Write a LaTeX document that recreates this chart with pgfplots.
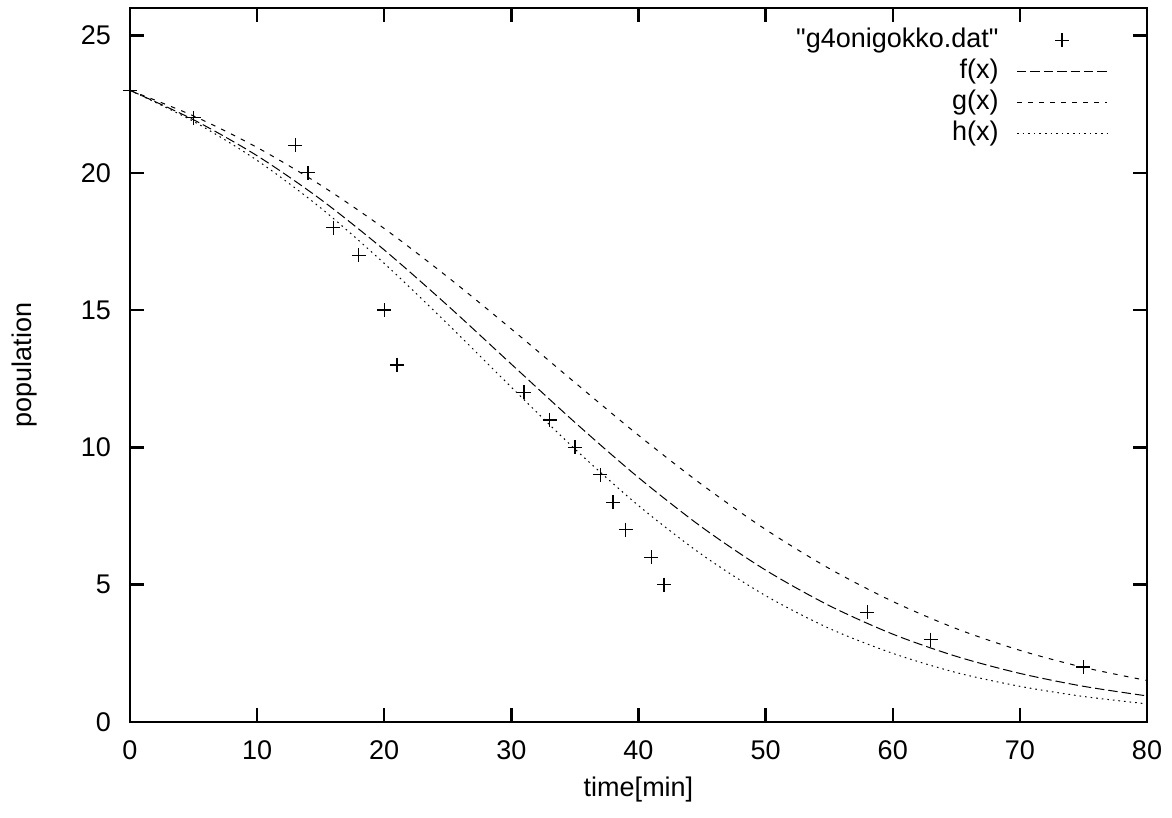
\documentclass[border=0pt]{standalone}
\usepackage{fontspec}
\setmainfont{Liberation Sans}
\usepackage{pgfplots}
\pgfplotsset{compat=1.18}
\pgfplotsset{
    lineleg/.style={legend image code/.code={\draw[##1, mark=none] (0pt,0pt) -- (45pt,0pt);}},
    plusleg/.style={legend image code/.code={\path (0pt,0pt) (45pt,0pt);\draw[##1] plot coordinates {(22.5pt,0pt)};}},
}

% measured data
\pgfplotstableread{
x y
0 23
5 22
13 21
14 20
16 18
18 17
20 15
21 13
31 12
33 11
35 10
37 9
38 8
39 7
41 6
42 5
58 4
63 3
75 2
}\dat

% fitted curves
\pgfplotstableread{
x f g h
0 23.00 23.00 23.00
5 21.93 22.07 21.87
10 20.62 20.92 20.45
15 19.03 19.55 18.72
20 17.19 17.97 16.70
25 15.16 16.20 14.49
30 13.03 14.31 12.19
35 10.91 12.36 9.94
40 8.90 10.44 7.88
45 7.09 8.64 6.09
50 5.53 7.01 4.60
55 4.24 5.59 3.41
60 3.20 4.39 2.50
65 2.39 3.40 1.80
70 1.77 2.61 1.30
75 1.30 1.99 0.93
80 0.95 1.51 0.66
}\fits

\begin{document}
\begin{tikzpicture}
\useasboundingbox (-65pt,-48pt) rectangle (521pt,361pt);
\begin{axis}[
    at={(0pt,0pt)}, anchor=south west,
    width=508.5pt, height=357pt, scale only axis,
    xmin=0, xmax=80, ymin=0, ymax=26,
    xtick={0,10,...,80}, ytick={0,5,...,25},
    tick align=inside, major tick length=7pt,
    axis line style={line width=1.2pt},
    every tick/.style={black, line width=1.2pt},
    font=\fontsize{13.5}{16}\selectfont,
    /pgf/number format/assume math mode=true,
    xticklabel style={yshift=-6pt},
    yticklabel style={xshift=-6pt},
    xlabel={time[min]}, ylabel={population},
    every axis x label/.style={at={(axis description cs:0.5,-0.094)}, anchor=center},
    every axis y label/.style={at={(axis description cs:-0.1034,0.5)}, anchor=center, rotate=90},
    legend plot pos=right,
    legend cell align=right,
    legend style={at={(axis description cs:0.9616,1)}, anchor=north east, yshift=-8.5pt,
        draw=none, fill=none, inner sep=0pt, row sep=0.5pt, column sep=0pt,
        nodes={text height=10pt, text depth=3pt, inner sep=1pt},
        /tikz/every odd column/.append style={column sep=8pt}},
]
\addplot[only marks, mark=+, mark size=3.5pt, mark options={line width=0.6pt}, plusleg]
    table[x=x, y=y] {\dat};
\addlegendentry{\textquotedbl g4onigokko.dat\textquotedbl}
\addplot[smooth, line width=0.5pt, dash pattern=on 4.7pt off 2pt, lineleg] table[x=x, y=f] {\fits};
\addlegendentry{f(x)}
\addplot[smooth, line width=0.5pt, dash pattern=on 2.3pt off 3.2pt, lineleg] table[x=x, y=g] {\fits};
\addlegendentry{g(x)}
\addplot[smooth, line width=0.5pt, dash pattern=on 0.8pt off 2pt, lineleg] table[x=x, y=h] {\fits};
\addlegendentry{h(x)}
\end{axis}
\end{tikzpicture}
\end{document}
